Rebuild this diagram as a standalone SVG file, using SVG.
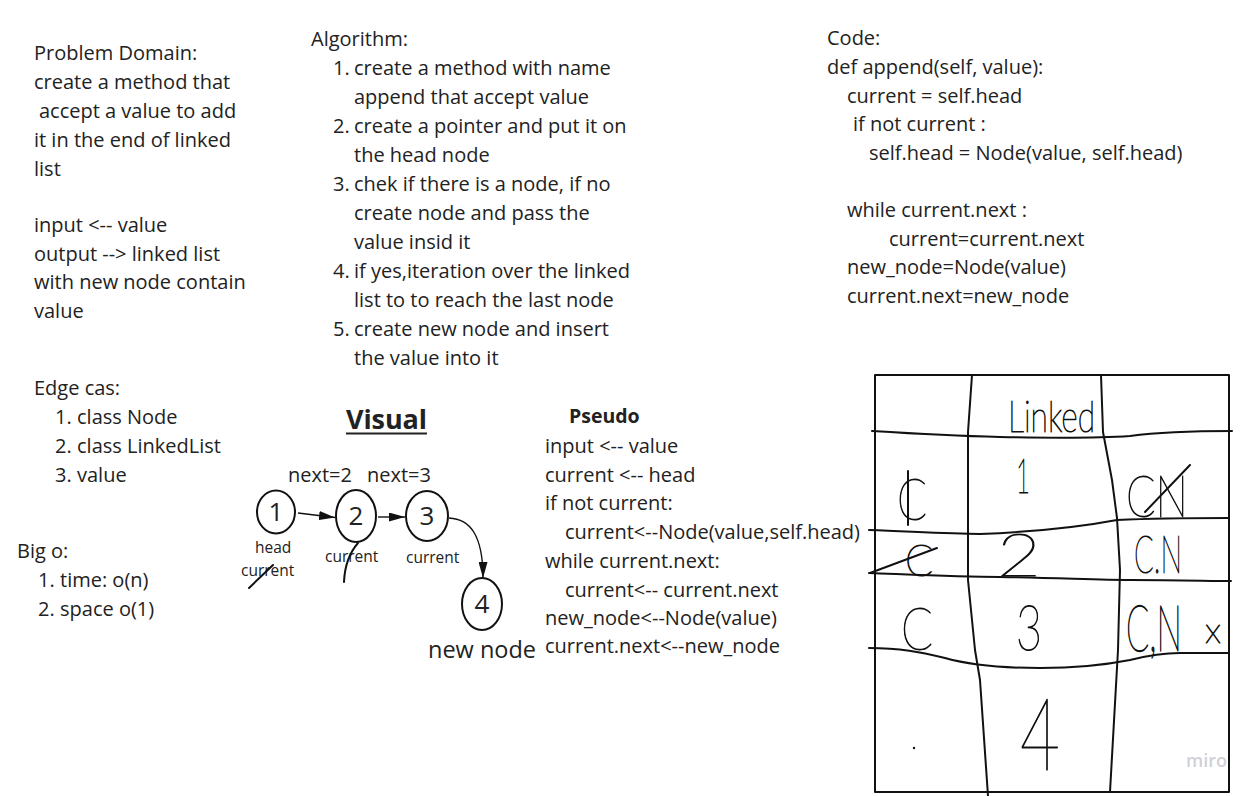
<svg xmlns="http://www.w3.org/2000/svg" width="1254" height="796" viewBox="0 0 1254 796">
<defs>
<marker id="ah" markerUnits="userSpaceOnUse" markerWidth="16" markerHeight="9" refX="16" refY="4.5" orient="auto">
<path d="M0,0 L16,4.5 L0,9 z" fill="#111"/>
</marker>
<style>
.t{font-family:"Open Sans","Noto Sans","Liberation Sans",sans-serif;font-size:20px;fill:#222}
.b{font-weight:bold}
.sm{font-size:15.5px}
.hw{font-family:"Lato","Open Sans",sans-serif;font-weight:100;fill:#111;stroke:#111;stroke-width:1.1;stroke-linejoin:round}
.ink{fill:none;stroke:#111;stroke-width:2;stroke-linecap:round;stroke-linejoin:round}
.grid{fill:none;stroke:#111;stroke-width:2;stroke-linecap:round;stroke-linejoin:round}
.node ellipse{fill:#fff;stroke:#111;stroke-width:2}
.num{font-family:"Open Sans","Noto Sans",sans-serif;font-size:26px;fill:#222;text-anchor:middle}
.edge{fill:none;stroke:#111;stroke-width:1.4;marker-end:url(#ah)}
</style>
</defs>
<rect width="1254" height="796" fill="#fff"/>

<g id="problem-domain" class="t">
<text x="34" y="60">Problem Domain:</text>
<text x="34" y="89">create a method that</text>
<text x="39" y="118">accept a value to add</text>
<text x="34" y="147">it in the end of linked</text>
<text x="34" y="176">list</text>
<text x="34" y="232">input &lt;-- value</text>
<text x="34" y="261">output --&gt; linked list</text>
<text x="34" y="289">with new node contain</text>
<text x="34" y="318">value</text>
</g>

<g id="algorithm" class="t">
<text x="311" y="46">Algorithm:</text>
<text x="333" y="75">1.</text><text x="354" y="75">create a method with name</text>
<text x="354" y="104">append that accept value</text>
<text x="333" y="133">2.</text><text x="354" y="133">create a pointer and put it on</text>
<text x="354" y="162">the head node</text>
<text x="333" y="191">3.</text><text x="354" y="191">chek if there is a node, if no</text>
<text x="354" y="220">create node and pass the</text>
<text x="354" y="249">value insid it</text>
<text x="333" y="278">4.</text><text x="354" y="278">if yes,iteration over the linked</text>
<text x="354" y="307">list to to reach the last node</text>
<text x="333" y="336">5.</text><text x="354" y="336">create new node and insert</text>
<text x="354" y="365">the value into it</text>
</g>

<g id="code" class="t">
<text x="827" y="45">Code:</text>
<text x="827" y="74">def append(self, value):</text>
<text x="847" y="103">current = self.head</text>
<text x="853" y="131">if not current :</text>
<text x="869" y="160">self.head = Node(value, self.head)</text>
<text x="847" y="217">while current.next :</text>
<text x="889" y="246">current=current.next</text>
<text x="847" y="274">new_node=Node(value)</text>
<text x="847" y="303">current.next=new_node</text>
</g>

<g id="edge-cases" class="t">
<text x="34" y="395">Edge cas:</text>
<text x="55" y="424">1.</text><text x="77" y="424">class Node</text>
<text x="55" y="453">2.</text><text x="77" y="453">class LinkedList</text>
<text x="55" y="482">3.</text><text x="77" y="482">value</text>
</g>

<g id="big-o" class="t">
<text x="17" y="558">Big o:</text>
<text x="38" y="587">1.</text><text x="60" y="587">time: o(n)</text>
<text x="38" y="616">2.</text><text x="60" y="616">space o(1)</text>
</g>

<g id="pseudo" class="t">
<text x="569" y="423" class="b" style="font-size:19.5px">Pseudo</text>
<text x="545" y="453">input &lt;-- value</text>
<text x="545" y="482">current &lt;-- head</text>
<text x="545" y="510">if not current:</text>
<text x="565" y="539">current&lt;--Node(value,self.head)</text>
<text x="545" y="568">while current.next:</text>
<text x="565" y="597">current&lt;-- current.next</text>
<text x="545" y="625">new_node&lt;--Node(value)</text>
<text x="545" y="653">current.next&lt;--new_node</text>
</g>

<g id="visual-title">
<text x="346" y="429" class="t b" style="font-size:27px" textLength="81">Visual</text>
<line x1="346" y1="433.5" x2="427" y2="433.5" stroke="#222" stroke-width="2"/>
</g>

<g id="connectors">
<path class="edge" d="M298,513 L335,517.5"/>
<path class="edge" d="M378,517 L405,517"/>
<path class="edge" d="M449,518 C470,519 483,535 483,578"/>
</g>

<g id="node-1" class="node">
<ellipse cx="276" cy="512" rx="19" ry="21.5"/>
<text class="num" x="276" y="521">1</text>
<text class="t sm" x="255" y="553">head</text>
<text class="t sm" x="241" y="576">current</text>
<path class="ink" d="M249,588 L273,565" stroke-width="1.6"/>
</g>

<g id="node-2" class="node">
<ellipse cx="356" cy="516" rx="20" ry="26"/>
<text class="num" x="356" y="525">2</text>
<text class="t" x="288" y="482">next=2</text>
<text class="t sm" x="325" y="562">current</text>
<path class="ink" d="M344,582 Q345,558 358,543" stroke-width="1.6"/>
</g>

<g id="node-3" class="node">
<ellipse cx="427" cy="516" rx="21" ry="25"/>
<text class="num" x="427" y="525">3</text>
<text class="t" x="367" y="482">next=3</text>
<text class="t sm" x="406" y="563">current</text>
</g>

<g id="node-4" class="node">
<ellipse cx="482" cy="604" rx="20" ry="26"/>
<text class="num" x="482" y="613">4</text>
<text class="t" x="428" y="658" style="font-size:23.5px">new node</text>
</g>

<g id="table">
<rect class="grid" x="875" y="375" width="354" height="417"/>
<path class="grid" d="M972,375 L968,432 L968,580 L975,650 L980,680 L988,796"/>
<path class="grid" d="M1101,375 L1103,432 L1112,480 L1117,518 L1120,570 L1118,650 L1110,792"/>
<path class="grid" d="M872,431 C920,434 960,436 1000,437 C1050,438 1100,438 1130,436 C1160,432 1190,431 1232,431"/>
<path class="grid" d="M869,530 C920,532 950,534 980,534 C1030,532 1080,527 1117,520 C1160,518 1200,518 1229,518"/>
<path class="grid" d="M869,573 C920,575 960,577 1000,577 C1060,578 1100,580 1130,580 C1180,580 1210,581 1231,581"/>
<path class="grid" d="M869,648 C900,648 920,652 945,658 C970,665 1000,668 1040,668 C1080,668 1110,664 1130,660 C1150,655 1165,653 1180,653 L1228,653"/>

<text class="hw" x="1008" y="432" font-size="44" textLength="87" lengthAdjust="spacingAndGlyphs">Linked</text>

<text class="hw" x="897" y="520" font-size="58" textLength="30" lengthAdjust="spacingAndGlyphs">C</text>
<path class="ink" d="M908,471 L908,525"/>
<text class="hw" x="1016" y="493" font-size="48" textLength="14" lengthAdjust="spacingAndGlyphs">1</text>
<text class="hw" x="1126" y="517" font-size="58" textLength="62" lengthAdjust="spacingAndGlyphs">CN</text>
<path class="ink" d="M1145,512 L1190,465"/>

<text class="hw" x="905" y="576" font-size="44" textLength="28" lengthAdjust="spacingAndGlyphs">C</text>
<path class="ink" d="M870,573 L937,548"/>
<text class="hw" x="997" y="576" font-size="60" textLength="44" lengthAdjust="spacingAndGlyphs">2</text>
<text class="hw" x="1134" y="573" font-size="52" textLength="48" lengthAdjust="spacingAndGlyphs">C.N</text>

<text class="hw" x="901" y="650" font-size="60" textLength="32" lengthAdjust="spacingAndGlyphs">C</text>
<text class="hw" x="1016" y="650" font-size="62" textLength="26" lengthAdjust="spacingAndGlyphs">3</text>
<text class="hw" font-size="34" transform="translate(1126,651) scale(1,1.9)" vector-effect="non-scaling-stroke">C,N</text>
<text class="hw" x="1205" y="643" font-size="36">x</text>

<text class="hw" x="1020" y="770" font-size="100" textLength="40" lengthAdjust="spacingAndGlyphs">4</text>
<circle cx="914" cy="748" r="1.2" fill="#111"/>
<text x="1186" y="767" font-family="Open Sans, sans-serif" font-weight="600" font-size="18" fill="#d0d0d6">miro</text>
</g>
</svg>
